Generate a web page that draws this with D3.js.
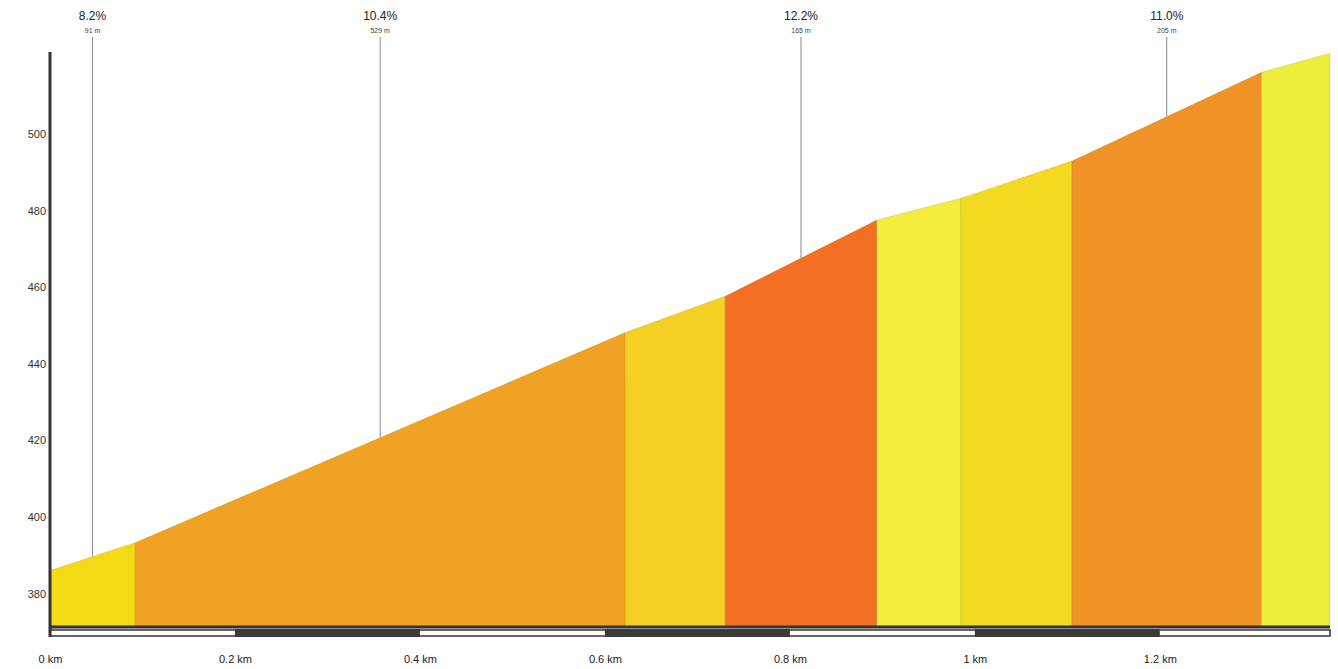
<!DOCTYPE html>
<html><head><meta charset="utf-8">
<script src="https://cdn.jsdelivr.net/npm/d3@7"></script>
<style>html,body{margin:0;padding:0;background:#fff;}svg{display:block;font-family:"Liberation Sans",Arial,sans-serif;}</style>
</head><body>
<svg id="c" width="1338" height="669"></svg>
<script>
// Segment boundaries (km) and elevations (m)
const distances = [0, 0.092, 0.622, 0.730, 0.894, 0.985, 1.105, 1.310, 1.384];
const elevations = [386.0, 393.3, 448.2, 457.7, 477.6, 483.3, 493.0, 516.2, 521.2];
const segmentColors = ["#f4d915", "#f0a224", "#f3d021", "#f36f22", "#f1ee3e", "#f3da21", "#f09225", "#eeee3c"];
// Annotations: segment index, grade label, length label
const annotSegments = [0, 1, 3, 6];
const annotGrades = ["8.2%", "10.4%", "12.2%", "11.0%"];
const annotLengths = ["91 m", "529 m", "165 m", "205 m"];
const yTicks = [380, 400, 420, 440, 460, 480, 500];
const xTicks = [0, 0.2, 0.4, 0.6, 0.8, 1.0, 1.2];
const xTickLabels = ["0 km", "0.2 km", "0.4 km", "0.6 km", "0.8 km", "1 km", "1.2 km"];
const scaleBarDark = [[0.2, 0.4], [0.6, 0.8], [1.0, 1.2]];

const svg = d3.select("#c");
const x = d3.scaleLinear().domain([0, 1.384]).range([50, 1330]);
const y = d3.scaleLinear().domain([371, 521.5]).range([628, 52]);

// segments
const segs = d3.range(distances.length - 1).map(i => ({
  x0: distances[i], x1: distances[i+1], e0: elevations[i], e1: elevations[i+1], c: segmentColors[i]
}));
const area = d3.area().x(d => x(d[0])).y0(y(371)).y1(d => y(d[1]));
svg.append("g").selectAll("path").data(segs).join("path")
  .attr("d", s => area([[s.x0, s.e0], [s.x1, s.e1]]))
  .attr("fill", s => s.c)
  .attr("stroke", "rgba(120,100,60,0.25)")
  .attr("stroke-width", 0.7);

// annotations
const ann = svg.append("g");
annotSegments.forEach((si, i) => {
  const s = segs[si];
  const mx = (s.x0 + s.x1) / 2;
  const me = (s.e0 + s.e1) / 2;
  ann.append("line").attr("x1", x(mx)).attr("x2", x(mx)).attr("y1", 37).attr("y2", y(me))
    .attr("stroke", "#8a8a8a").attr("stroke-width", 1);
  ann.append("text").attr("x", x(mx)).attr("y", 20).attr("text-anchor", "middle")
    .attr("font-size", 12).attr("fill", "#222").text(annotGrades[i]);
  ann.append("text").attr("x", x(mx)).attr("y", 33).attr("text-anchor", "middle")
    .attr("font-size", 7).attr("fill", "#444").text(annotLengths[i]);
});

// scale bar along bottom
const sb = svg.append("g");
sb.append("rect").attr("x", x(0)).attr("y", 630).attr("width", x(1.384) - x(0)).attr("height", 6)
  .attr("fill", "#fff").attr("stroke", "#333").attr("stroke-width", 1.5);
sb.selectAll("rect.d").data(scaleBarDark).join("rect").attr("class", "d")
  .attr("x", d => x(d[0])).attr("width", d => x(d[1]) - x(d[0]))
  .attr("y", 629).attr("height", 8).attr("fill", "#3a3a3a");

// axes lines
svg.append("line").attr("x1", x(0) - 1).attr("x2", x(1.384)).attr("y1", 627).attr("y2", 627)
  .attr("stroke", "#333").attr("stroke-width", 3);
svg.append("line").attr("x1", x(0)).attr("x2", x(0)).attr("y1", 52).attr("y2", 637)
  .attr("stroke", "#333").attr("stroke-width", 3);

// y axis labels
const yAxis = d3.axisLeft(y).tickValues(yTicks).tickSize(0).tickPadding(6);
const gy = svg.append("g").attr("transform", "translate(52,0)").call(yAxis);
gy.select(".domain").remove();
gy.selectAll("text").attr("font-size", 11).attr("fill", "#333").attr("font-family", "'Liberation Sans',Arial,sans-serif");

// x axis labels
const xAxis = d3.axisBottom(x).tickValues(xTicks).tickFormat((d, i) => xTickLabels[i]).tickSize(0);
const gx = svg.append("g").attr("transform", "translate(0,652)").call(xAxis);
gx.select(".domain").remove();
gx.selectAll("text").attr("font-size", 11).attr("fill", "#222").attr("font-family", "'Liberation Sans',Arial,sans-serif");
</script>
</body></html>
